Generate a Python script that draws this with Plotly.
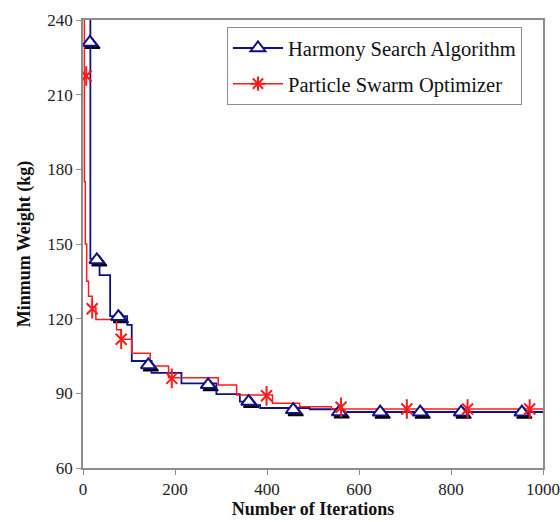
import plotly.graph_objects as go

# ---------------- data ----------------
# Harmony Search Algorithm: step curve (x = iteration, y = minimum weight in kg)
HS_STEP_X = [13, 16, 36, 59, 96, 106, 149, 214, 290, 341, 360, 385, 493, 556, 1000]
HS_STEP_Y = [262, 144, 137.5, 121, 117.5, 103, 98.2, 94.0, 89.7, 86.7, 85.3, 84.1, 83.6, 82.5, 82.5]
# Harmony Search markers
HS_MARK_X = [15, 30, 77, 142, 272, 360, 457, 557, 646, 733, 822, 954]
HS_MARK_Y = [231, 143.6, 120.8, 101.4, 93.4, 86.7, 83.4, 82.5, 82.4, 82.4, 82.4, 82.4]

# Particle Swarm Optimizer: step curve
PSO_STEP_X = [2, 3, 5, 8, 12, 20, 28, 73, 83, 106, 146, 186, 294, 334, 412, 471, 540, 1000]
PSO_STEP_Y = [262, 175, 150, 135, 129, 124.5, 119.7, 115.5, 111.7, 106.1, 101.0, 96.3, 93.3, 89.3, 86.0, 84.6, 83.7, 83.7]
# Particle Swarm markers
PSO_MARK_X = [7, 20, 83, 193, 399, 561, 704, 836, 971]
PSO_MARK_Y = [217.5, 124.0, 111.7, 96.0, 89.0, 84.4, 83.7, 83.7, 83.7]

X_TICKS = [0, 200, 400, 600, 800, 1000]
Y_TICKS = [60, 90, 120, 150, 180, 210, 240]

X_RANGE = [0, 1000]
Y_RANGE = [60, 240]

BLUE = "#10108a"
RED = "#ff1a1a"
GREY = "#8c8c8c"
FONT = "Liberation Serif"

# plot area size in px (for the marker shadow offset)
PLOT_W = 460
PLOT_H = 448
SHADOW_PX = 2.5
dx = SHADOW_PX * (X_RANGE[1] - X_RANGE[0]) / PLOT_W
dy = SHADOW_PX * (Y_RANGE[1] - Y_RANGE[0]) / PLOT_H

fig = go.Figure()

# shadow of triangle markers (on hidden, slightly shifted axes)
fig.add_trace(go.Scatter(
    x=HS_MARK_X, y=HS_MARK_Y, mode="markers", xaxis="x", yaxis="y",
    marker=dict(symbol="triangle-up", size=13, color="black",
                line=dict(color="black", width=1.5)),
    showlegend=False, hoverinfo="skip"))

# step lines
fig.add_trace(go.Scatter(
    x=HS_STEP_X, y=HS_STEP_Y, mode="lines", line_shape="hv", xaxis="x2", yaxis="y2",
    line=dict(color=BLUE, width=1.8), showlegend=False, legendgroup="hs"))
fig.add_trace(go.Scatter(
    x=PSO_STEP_X, y=PSO_STEP_Y, mode="lines", line_shape="hv", xaxis="x2", yaxis="y2",
    line=dict(color=RED, width=1.5), showlegend=False, legendgroup="pso"))

# markers
fig.add_trace(go.Scatter(
    x=HS_MARK_X, y=HS_MARK_Y, mode="markers", xaxis="x2", yaxis="y2",
    marker=dict(symbol="triangle-up", size=13, color="white",
                line=dict(color=BLUE, width=2)),
    showlegend=False, legendgroup="hs"))
fig.add_trace(go.Scatter(
    x=PSO_MARK_X, y=PSO_MARK_Y, mode="markers", xaxis="x2", yaxis="y2",
    marker=dict(symbol="x-thin-open", size=11, color=RED,
                line=dict(color=RED, width=2)),
    showlegend=False, legendgroup="pso"))
fig.add_trace(go.Scatter(
    x=PSO_MARK_X, y=PSO_MARK_Y, mode="markers", xaxis="x2", yaxis="y2",
    marker=dict(symbol="line-ns-open", size=14, color=RED,
                line=dict(color=RED, width=2)),
    showlegend=False, legendgroup="pso"))

# legend entries
fig.add_trace(go.Scatter(
    x=[None], y=[None], mode="lines+markers", xaxis="x2", yaxis="y2",
    name="Harmony Search Algorithm", legendgroup="hs",
    line=dict(color=BLUE, width=1.8),
    marker=dict(symbol="triangle-up", size=13, color="white",
                line=dict(color=BLUE, width=2))))
fig.add_trace(go.Scatter(
    x=[None], y=[None], mode="lines+markers", xaxis="x2", yaxis="y2",
    name="Particle Swarm Optimizer", legendgroup="pso",
    line=dict(color=RED, width=1.5),
    marker=dict(symbol="asterisk-open", size=12, color=RED,
                line=dict(color=RED, width=2))))

axis_common = dict(showgrid=False, zeroline=False, automargin=False)

fig.update_layout(
    width=560, height=522,
    margin=dict(l=83, r=17, t=20, b=54),
    paper_bgcolor="white", plot_bgcolor="white",
    font=dict(family=FONT, size=17, color="#222222"),
    xaxis=dict(range=[X_RANGE[0] - dx, X_RANGE[1] - dx], visible=False, **axis_common),
    yaxis=dict(range=[Y_RANGE[0] + dy, Y_RANGE[1] + dy], visible=False, **axis_common),
    xaxis2=dict(
        overlaying="x", range=X_RANGE, tickvals=X_TICKS, ticktext=[str(v) for v in X_TICKS],
        showline=True, linecolor=GREY, linewidth=1.5, mirror=True,
        ticks="outside", ticklen=5, tickcolor=GREY,
        tickfont=dict(family=FONT, size=17, color="#222222"),
        title=dict(text="<b>Number of Iterations</b>", standoff=4,
                   font=dict(family=FONT, size=18, color="#111111")),
        anchor="y2", **axis_common),
    yaxis2=dict(
        overlaying="y", range=Y_RANGE, tickvals=Y_TICKS, ticktext=[str(v) for v in Y_TICKS],
        showline=True, linecolor=GREY, linewidth=1.5, mirror=True,
        ticks="outside", ticklen=5, tickcolor=GREY,
        tickfont=dict(family=FONT, size=17, color="#222222"),
        title=dict(text="<b>Minmum Weight (kg)</b>", standoff=12,
                   font=dict(family=FONT, size=18, color="#111111")),
        anchor="x2", **axis_common),
    legend=dict(
        x=0.313, y=0.984, xanchor="left", yanchor="top",
        bgcolor="white", bordercolor=GREY, borderwidth=1,
        font=dict(family=FONT, size=20.5, color="#111111"),
        tracegroupgap=6, itemwidth=50),
    showlegend=True,
)

# remove the default page margin so the figure sits at the window's top-left corner
fig.write_html("out.html",
               config={"displayModeBar": False},
               post_script="document.body.style.margin='0';document.body.style.overflow='hidden';")
